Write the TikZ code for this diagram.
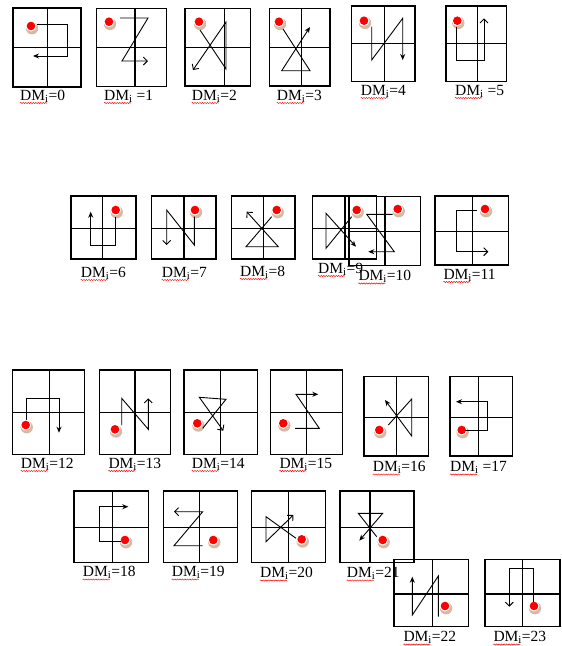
\documentclass[tikz,border=0pt]{standalone}
\usepackage{fontspec}
\setmainfont{Liberation Serif}
\usepackage{tikz}
\usetikzlibrary{arrows.meta,decorations.pathmorphing}
\definecolor{dotshade}{RGB}{210,186,164}

\begin{document}
\begin{tikzpicture}[
  x=1pt, y=-1pt,
  cell/.style={line width=1.2pt},
  trail/.style={line width=0.9pt, line join=miter},
  fa/.style={trail, -{Stealth[length=6pt,width=5pt]}},
  oa/.style={trail, -{Straight Barb[length=4pt,width=8pt]}},
  lab/.style={inner sep=0pt, anchor=base west, font=\fontsize{15.5}{15.5}\selectfont},
  wavy/.style={red, line width=0.5pt, decorate, decoration={snake, amplitude=0.6pt, segment length=2.5pt}}
]
  \useasboundingbox (0,0) rectangle (562,646);

  % the 24 cells, each split in four
  \foreach \xa/\ya/\xb/\yb/\xm/\ym in {
    13/8/81/87/47.7/47.7, 96.7/8.3/166.7/86.7/135/47.7,
    185/8.3/250.7/86/224.3/47.7, 269.3/8.3/330/86/301.7/47.7,
    351.7/6/415/81.7/384.3/43.3, 446/6/506.7/81.7/477.3/43.3,
    71/196/136/259/102.7/228.3, 151.7/196/216/259/184/228.3,
    231.7/196/295/259/263.3/228.3, 312.7/196/376.7/259/345/228.3,
    349/196.7/420.7/265.7/385/231.7, 435/196/508.3/265/472.3/231.7,
    12.7/370/84.3/454.3/49.3/412.3, 99.3/370/170.7/454.3/135/412.3,
    184/370/257.3/454.3/220.7/412.3, 270.7/370/342.3/454.3/306.7/412.3,
    364/376.7/428.3/456/396.7/417.7, 450/376.7/512.7/456/478.3/417.7,
    74/491/148.3/562.3/112.3/527.7, 163.3/491/237.3/562.3/199.3/527.7,
    251.7/491/325.7/562.3/288.3/527.3, 340/491/414/562.3/370/527.3,
    394/559.3/468.3/626.7/432.3/594, 485/559.3/560/626.7/522.7/594}
    \draw[cell] (\xa,\ya) rectangle (\xb,\yb)
      (\xm,\ya) -- (\xm,\yb) (\xa,\ym) -- (\xb,\ym);

  % red start points
  \foreach \x/\y in {31/26, 109/21.7, 199/21.7, 279/21.7, 364/20.7, 457.3/20.7,
    115.7/210, 195/210, 276.7/210, 356.7/210, 397.7/209, 485/209,
    25.7/425, 115/429.3, 197.3/423.3, 283.3/423.3, 379.3/430, 461.7/430,
    125/540, 213.3/540, 301.7/539.3, 382.7/540, 445/606, 534/606} {
    \fill[dotshade] (\x+1,\y+2.2) circle (6.2);
    \fill[white] (\x,\y) circle (5.5);
    \fill[red] (\x,\y) circle (4.3);
  }

  % scan orders
  \draw[fa] (37,24) -- (67,24) -- (67,56) -- (33,56);
  \draw[oa] (120,18) -- (148,18) -- (122,61) -- (148,61);
  \draw[oa] (200,30) -- (226,69) -- (226,22) -- (193,70);
  \draw[fa] (283,29) -- (310,70.7) -- (281.7,70.7) -- (310,27);
  \draw[fa] (371.7,26.7) -- (371.7,60) -- (402.7,18.3) -- (402.7,60);
  \draw[oa] (456.7,26.7) -- (456.7,60) -- (484,60) -- (484,18.3);
  \draw[fa] (115,216.7) -- (115,245.7) -- (90.7,245.7) -- (90.7,211.7);
  \draw[oa] (194.3,216.7) -- (194.3,245) -- (166.7,210) -- (166.7,245);
  \draw[oa] (271.7,216.7) -- (246,246.7) -- (278.3,246.7) -- (246.7,211.7);
  \draw[fa] (351.7,216.7) -- (326,248.3) -- (326,213.3) -- (356,246.7);
  \draw[fa] (392.7,214.3) -- (366.7,214.3) -- (394.3,251.7) -- (368.3,251.7);
  \draw[oa] (476.7,210) -- (456.7,210) -- (456.7,251.7) -- (488.3,251.7);
  \draw[fa] (26.7,420) -- (26.7,398.3) -- (59,398.3) -- (59,432.7);
  \draw[oa] (121.7,425) -- (121.7,398.3) -- (148.3,429.3) -- (148.3,398.3);
  \draw[oa] (202.7,428.3) -- (226,399.3) -- (199.3,397.3) -- (223.3,430.7);
  \draw[fa] (295,428.3) -- (319.3,428.3) -- (296,394.3) -- (318.3,394.3);
  \draw[fa] (388.3,425) -- (411.7,399) -- (411.7,436) -- (385,400);
  \draw[fa] (465,430.7) -- (487.3,430.7) -- (487.3,401.7) -- (456,401.7);
  \draw[fa] (120.7,541) -- (99,541) -- (99,506.7) -- (128.3,506.7);
  \draw[oa] (202.7,545.7) -- (174,545.7) -- (202.7,511.7) -- (174,511.7);
  \draw[oa] (296,538.3) -- (266,516.7) -- (266,541.7) -- (293.3,515);
  \draw[fa] (376.7,536.7) -- (358.3,513.3) -- (382.7,513.3) -- (359.3,540.7);
  \draw[fa] (438.3,616.7) -- (438.3,576) -- (412.3,615) -- (412.3,576.7);
  \draw[oa] (533.3,601.7) -- (533.3,568.3) -- (509.3,568.3) -- (509.3,606.7);

  % captions
  \foreach \n/\x/\y/\val in {0/20/100/{=0}, 1/104/100/{\ =1}, 2/191.7/100/{=2},
    3/276.7/100/{=3}, 4/360.7/95/{=4}, 5/455/95/{\ =5},
    6/80.7/277/{=6}, 7/161.7/277/{=7}, 8/240/276/{=8}, 9/318/273/{=9},
    10/358.3/280.5/{=10}, 11/443.3/279/{=11},
    12/20.7/468/{=12}, 13/108.3/468/{=13}, 14/191.7/468/{=14}, 15/279.3/468/{=15},
    16/372.7/471.5/{=16}, 17/450/471.5/{\ =17},
    18/82.7/576.5/{=18}, 19/171.7/576.5/{=19}, 20/260/577.5/{=20}, 21/346.7/577.5/{=21},
    22/403.3/641.5/{=22}, 23/493.3/641.5/{=23}} {
    \node[lab] (l\n) at (\x,\y) {DM\textsubscript{i}\val};
    \draw[wavy] ([yshift=-3pt]l\n.base west) -- ++(27,0);
  }
\end{tikzpicture}
\end{document}
